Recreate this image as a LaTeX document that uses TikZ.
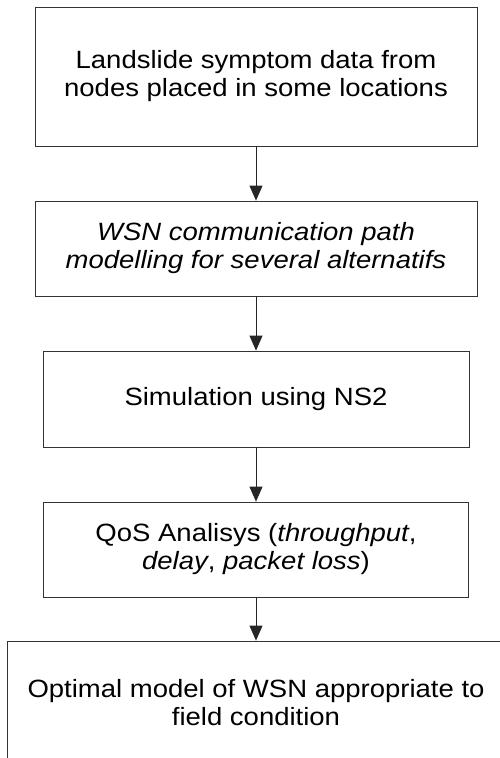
\documentclass[tikz,border=0pt]{standalone}
\usepackage{fontspec}
\setmainfont{Liberation Sans}[FakeStretch=1.1]
\usepackage{tikz}
\usetikzlibrary{arrows.meta}

\begin{document}
\begin{tikzpicture}[x=1pt, y=-1pt,
    stage/.style={draw=black!80, line width=0.8pt, inner sep=0pt, align=center,
        font=\fontsize{25}{28}\selectfont},
    flow/.style={draw=black!85, line width=0.8pt, -{Triangle[width=13pt,length=15pt]}}]
    \useasboundingbox (0,0) rectangle (500,758);

    % Draw the boxes
    \node[stage, minimum width=442pt, minimum height=139pt] (symptom) at (256,76.5)
        {Landslide symptom data from\\nodes placed in some locations};
    \node[stage, minimum width=442pt, minimum height=95pt] (pathmodel) at (256,248.5)
        {\itshape WSN communication path\\\itshape modelling for several alternatifs};
    \node[stage, minimum width=426pt, minimum height=96pt] (ns2) at (256,399)
        {Simulation using NS2};
    \node[stage, minimum width=425pt, minimum height=95pt] (qos) at (256,549.5)
        {QoS Analisys (\textit{throughput},\\\textit{delay}, \textit{packet loss})};
    \node[stage, minimum width=498pt, minimum height=124pt] (optimal) at (256,703)
        {Optimal model of WSN appropriate to\\field condition};

    % Draw the arrows
    \draw[flow] (symptom) -- (pathmodel);
    \draw[flow] (pathmodel) -- (ns2);
    \draw[flow] (ns2) -- (qos);
    \draw[flow] (qos) -- (optimal);
\end{tikzpicture}
\end{document}
